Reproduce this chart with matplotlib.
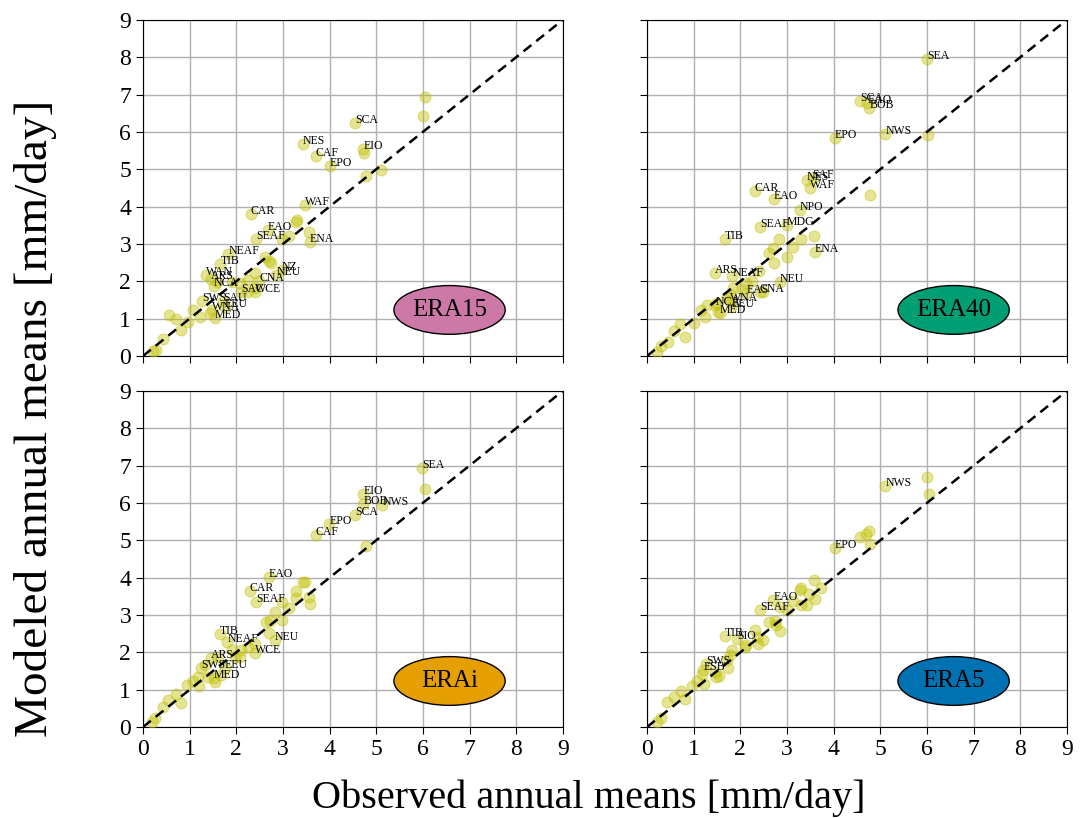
import matplotlib
matplotlib.use("Agg")
import matplotlib.pyplot as plt
from matplotlib.patches import Ellipse

plt.rcParams['font.family'] = ['Liberation Serif', 'DejaVu Serif']

# ERA15: observed vs modeled annual means, with region names ('' = unlabeled)
era15_obs = [6.04, 6.00, 4.54, 3.42, 3.70, 4.00, 4.72, 4.74, 4.79, 5.11,
             3.48, 2.31, 3.28, 3.30, 2.68, 2.42, 2.97, 3.13, 3.58, 3.55,
             1.83, 1.66, 2.61, 2.70, 2.74, 2.97, 2.86, 1.35, 1.45, 1.52,
             1.58, 1.90, 2.08, 2.25, 2.40, 2.49, 2.40, 2.22, 2.11, 2.40,
             1.26, 1.72, 1.76, 1.47, 1.54, 1.08, 1.22, 1.43, 0.56, 0.71,
             0.97, 0.81, 0.43, 0.29, 0.22]
era15_mod = [6.93, 6.43, 6.25, 5.68, 5.36, 5.09, 5.54, 5.43, 4.81, 4.99,
             4.05, 3.81, 3.60, 3.64, 3.38, 3.13, 3.13, 3.20, 3.04, 3.31,
             2.73, 2.47, 2.66, 2.55, 2.50, 2.29, 2.17, 2.17, 2.06, 1.88,
             1.99, 1.99, 1.95, 2.04, 2.22, 2.01, 1.81, 1.72, 1.70, 1.72,
             1.46, 1.48, 1.32, 1.23, 1.01, 1.23, 1.05, 1.14, 1.10, 0.98,
             0.92, 0.70, 0.45, 0.16, 0.14]
era15_names = ['', '', 'SCA', 'NES', 'CAF', 'EPO', 'EIO', '', '', '',
               'WAF', 'CAR', '', '', 'EAO', 'SEAF', '', '', 'ENA', '',
               'NEAF', 'TIB', '', '', '', 'NZ', 'NEU', 'WAN', 'ARS', 'NCA',
               '', '', '', '', '', 'CNA', '', '', 'SAC', 'WCE',
               'SWS', 'SAU', 'EEU', 'WNA', 'MED', '', '', '', '', '',
               '', '', '', '', '']

# ERA40
era40_obs = [6.00, 4.56, 4.72, 4.76, 4.03, 5.11, 6.03, 3.43, 3.55, 3.49,
             4.78, 2.31, 2.72, 3.28, 2.43, 3.00, 1.67, 2.83, 3.30, 3.58,
             2.70, 2.62, 3.12, 3.60, 3.00, 2.72, 1.46, 1.83, 2.40, 2.85,
             2.24, 2.13, 2.03, 2.13, 2.42, 2.49, 1.78, 1.46, 1.81, 1.56,
             1.81, 1.49, 1.53, 1.28, 1.15, 1.24, 1.01, 0.71, 0.58, 0.81,
             0.46, 0.31, 0.21, 1.85, 1.71]
era40_mod = [7.96, 6.82, 6.76, 6.64, 5.84, 5.94, 5.92, 4.72, 4.76, 4.49,
             4.30, 4.41, 4.21, 3.91, 3.45, 3.51, 3.14, 3.14, 3.14, 3.20,
             2.89, 2.77, 2.91, 2.79, 2.65, 2.50, 2.23, 2.15, 2.27, 1.99,
             2.02, 1.95, 1.79, 1.68, 1.72, 1.70, 1.48, 1.37, 1.30, 1.14,
             1.64, 1.41, 1.19, 1.37, 1.23, 1.04, 0.89, 0.86, 0.68, 0.50,
             0.37, 0.27, 0.12, 1.81, 1.59]
era40_names = ['SEA', 'SCA', 'EAO', 'BOB', 'EPO', 'NWS', '', 'NES', 'SAF', 'WAF',
               '', 'CAR', 'EAO', 'NPO', 'SEAF', 'MDG', 'TIB', '', '', '',
               '', '', '', 'ENA', '', '', 'ARS', 'NEAF', '', 'NEU',
               '', '', '', 'EAS', 'CNA', '', 'WNA', 'NCA', 'EEU', 'MED',
               '', '', '', '', '', '', '', '', '', '',
               '', '', '', '', '']

# ERAi
erai_obs = [5.99, 6.04, 5.13, 4.72, 4.72, 4.54, 3.99, 3.70, 4.78, 2.70,
            3.43, 3.48, 2.29, 2.42, 3.28, 3.29, 3.56, 3.59, 2.99, 3.13,
            2.83, 2.99, 2.63, 2.72, 2.70, 2.83, 1.65, 1.81, 2.40, 2.25,
            2.11, 2.40, 2.08, 1.97, 1.90, 1.45, 1.61, 1.24, 1.76, 1.33,
            1.68, 1.54, 1.52, 1.40, 1.18, 1.21, 1.08, 0.95, 0.71, 0.81,
            0.54, 0.42, 0.26, 0.19]
erai_mod = [6.94, 6.37, 5.94, 6.25, 5.98, 5.68, 5.43, 5.15, 4.85, 4.01,
            3.88, 3.88, 3.64, 3.34, 3.64, 3.46, 3.48, 3.30, 3.34, 3.19,
            3.07, 2.87, 2.81, 2.83, 2.51, 2.34, 2.48, 2.28, 2.23, 2.14,
            2.07, 1.98, 1.88, 1.88, 2.05, 1.86, 1.88, 1.57, 1.57, 1.65,
            1.39, 1.21, 1.30, 1.34, 1.34, 1.09, 1.24, 1.12, 0.88, 0.65,
            0.72, 0.54, 0.23, 0.14]
erai_names = ['SEA', '', 'NWS', 'EIO', 'BOB', 'SCA', 'EPO', 'CAF', '', 'EAO',
              '', '', 'CAR', 'SEAF', '', '', '', '', '', '',
              '', '', '', '', '', 'NEU', 'TIB', 'NEAF', '', '',
              '', 'WCE', '', '', '', 'ARS', '', 'SWS', 'EEU', '',
              '', '', 'MED', '', '', '', '', '', '', '',
              '', '', '', '']

# ERA5
era5_obs = [5.11, 6.01, 6.04, 4.75, 4.70, 4.56, 4.78, 4.03, 3.58, 3.31,
            3.72, 3.28, 2.71, 3.12, 3.48, 3.60, 3.31, 3.43, 2.43, 2.85,
            3.00, 2.62, 2.74, 2.76, 2.85, 1.67, 1.93, 2.31, 2.35, 2.48,
            2.38, 2.13, 2.10, 1.83, 1.78, 1.72, 1.26, 1.21, 1.46, 1.55,
            1.48, 1.74, 1.17, 1.08, 1.22, 0.96, 0.72, 0.58, 0.81, 0.42,
            0.31, 0.21]
era5_mod = [6.45, 6.70, 6.23, 5.25, 5.18, 5.10, 4.90, 4.79, 3.94, 3.73,
            3.72, 3.67, 3.41, 3.37, 3.55, 3.43, 3.28, 3.27, 3.14, 3.21,
            3.14, 2.81, 2.84, 2.72, 2.57, 2.43, 2.36, 2.59, 2.41, 2.34,
            2.21, 2.19, 2.13, 2.05, 1.92, 1.79, 1.70, 1.52, 1.47, 1.36,
            1.34, 1.57, 1.43, 1.24, 1.15, 1.09, 0.97, 0.81, 0.76, 0.67,
            0.23, 0.14]
era5_names = ['NWS', '', '', '', '', '', '', 'EPO', '', '',
              '', '', 'EAO', '', '', '', '', '', 'SEAF', '',
              '', '', '', '', '', 'TIB', 'SIO', '', '', '',
              '', '', '', '', '', '', 'SWS', 'ESB', '', '',
              '', '', '', '', '', '', '', '', '', '',
              '', '']

panels = [
    ("ERA15", era15_obs, era15_mod, era15_names, "#CC79A7"),
    ("ERA40", era40_obs, era40_mod, era40_names, "#009E73"),
    ("ERAi", erai_obs, erai_mod, erai_names, "#E69F00"),
    ("ERA5", era5_obs, era5_mod, era5_names, "#0072B2"),
]

fig = plt.figure(figsize=(10.88, 8.18), dpi=100)
lefts = [0.1314, 0.5947]
bottoms = [0.5648, 0.1112]
w, h = 0.386, 0.411

for i, (name, obs, mod, names, col) in enumerate(panels):
    r, c = divmod(i, 2)
    ax = fig.add_axes([lefts[c], bottoms[r], w, h])
    ax.scatter(obs, mod, s=62, color='y', alpha=0.42, edgecolors='y',
               linewidths=0.8, zorder=3)
    for x, y, lab in zip(obs, mod, names):
        if lab:
            ax.text(x, y, lab, fontsize=8.5, ha='left', va='baseline', zorder=4)
    ax.plot([0, 9], [0, 9], 'k--', lw=1.8, dashes=(4, 2.5), zorder=4)
    ax.set_xlim(0, 9)
    ax.set_ylim(0, 9)
    ax.set_xticks(range(10))
    ax.set_yticks(range(10))
    ax.grid(True, color='#b0b0b0', lw=1)
    ax.set_axisbelow(True)
    ax.tick_params(labelsize=17, length=5, width=0.8)
    if r == 0:
        ax.tick_params(labelbottom=False)
    if c == 1:
        ax.tick_params(labelleft=False)
    ax.add_patch(Ellipse((0.73, 0.137), 0.265, 0.145, transform=ax.transAxes,
                         facecolor=col, edgecolor='black', lw=1, zorder=5))
    ax.text(0.73, 0.137, name, transform=ax.transAxes, ha='center',
            va='center', fontsize=18, zorder=6)

fig.text(0.033, 0.489, "Modeled annual means [mm/day]", rotation=90,
         ha='center', va='center', fontsize=34)
fig.text(0.541, 0.024, "Observed annual means [mm/day]", ha='center',
         va='center', fontsize=29)

fig.savefig("out.png", dpi=100)
